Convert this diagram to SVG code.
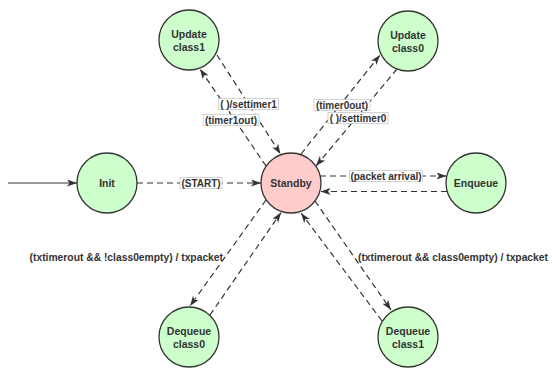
<svg xmlns="http://www.w3.org/2000/svg" width="552" height="369" viewBox="0 0 552 369">
<defs>
<style>
.node circle{stroke:#333;stroke-width:1.3}
.g{fill:#ccffcc}
.r{fill:#ffcccc}
.nl{font-family:"Liberation Sans",Arial,sans-serif;font-weight:bold;font-size:10.5px;fill:#333;text-anchor:middle}
.e{stroke:#333;stroke-width:1.2;fill:none;stroke-dasharray:6 4;marker-end:url(#arr)}
.s{stroke:#333;stroke-width:1.2;fill:none;marker-end:url(#arr)}
.lb{fill:#fff;stroke:#c8c8c8;stroke-width:0.8}
.lt{font-family:"Liberation Sans",Arial,sans-serif;font-weight:bold;font-size:10px;fill:#333;text-anchor:middle}
.ft{font-family:"Liberation Sans",Arial,sans-serif;font-weight:bold;font-size:10.3px;fill:#333}
</style>
<marker id="arr" markerUnits="userSpaceOnUse" markerWidth="12" markerHeight="8" refX="10" refY="3.5" orient="auto" viewBox="0 0 12 8">
<path d="M0,0 L10,3.5 L0,7 L2.5,3.5 Z" fill="#333"/>
</marker>
</defs>
<rect width="552" height="369" fill="#fff"/>
<g id="connectors">
<line class="s" x1="8" y1="183" x2="77" y2="183"/>
<line class="e" x1="137" y1="183" x2="261" y2="183"/>
<line class="e" x1="320" y1="176" x2="446.5" y2="176"/>
<line class="e" x1="447" y1="191.5" x2="320.5" y2="191.5"/>
<line class="e" x1="217" y1="55" x2="280.5" y2="154"/>
<line class="e" x1="266" y1="166" x2="200" y2="69"/>
<line class="e" x1="301" y1="154" x2="380" y2="55"/>
<line class="e" x1="397" y1="69" x2="316" y2="166"/>
<line class="e" x1="266" y1="200" x2="190" y2="306"/>
<line class="e" x1="210" y1="315" x2="281" y2="212.5"/>
<line class="e" x1="315" y1="201" x2="391" y2="310"/>
<line class="e" x1="382" y1="321" x2="301" y2="213"/>
<g id="labels">
<rect class="lb" x="180" y="177.5" width="42" height="11"/>
<text class="lt" x="201" y="186.5">(START)</text>
<rect class="lb" x="349.5" y="170.5" width="73" height="11"/>
<text class="lt" x="386" y="179.5">(packet arrival)</text>
<rect class="lb" x="218.5" y="98.5" width="60" height="11"/>
<text class="lt" x="248.5" y="107.5">( )/settimer1</text>
<rect class="lb" x="203" y="114.5" width="56" height="11"/>
<text class="lt" x="231" y="123.5">(timer1out)</text>
<rect class="lb" x="314" y="99.5" width="56" height="11"/>
<text class="lt" x="342" y="108.5">(timer0out)</text>
<rect class="lb" x="328" y="112.5" width="60" height="11"/>
<text class="lt" x="358" y="121.5">( )/settimer0</text>
<text class="ft" x="223" y="260.5" text-anchor="end">(txtimerout &amp;&amp; !class0empty) / txpacket</text>
<text class="ft" x="358" y="260.5">(txtimerout &amp;&amp; class0empty) / txpacket</text>
</g>
</g>
<g id="init" class="node"><circle class="g" cx="107" cy="183" r="30"/><text class="nl" x="107" y="187">Init</text></g>
<g id="standby" class="node"><circle class="r" cx="291" cy="183" r="30"/><text class="nl" x="291" y="187">Standby</text></g>
<g id="enqueue" class="node"><circle class="g" cx="476" cy="183" r="30"/><text class="nl" x="476" y="187">Enqueue</text></g>
<g id="update1" class="node"><circle class="g" cx="189" cy="40" r="30"/><text class="nl" x="189" y="38">Update</text><text class="nl" x="189" y="51">class1</text></g>
<g id="update0" class="node"><circle class="g" cx="408" cy="41" r="30"/><text class="nl" x="408" y="39">Update</text><text class="nl" x="408" y="52">class0</text></g>
<g id="dequeue0" class="node"><circle class="g" cx="189" cy="337" r="30"/><text class="nl" x="189" y="335">Dequeue</text><text class="nl" x="189" y="348">class0</text></g>
<g id="dequeue1" class="node"><circle class="g" cx="408" cy="337" r="30"/><text class="nl" x="408" y="335">Dequeue</text><text class="nl" x="408" y="348">class1</text></g>
</svg>
